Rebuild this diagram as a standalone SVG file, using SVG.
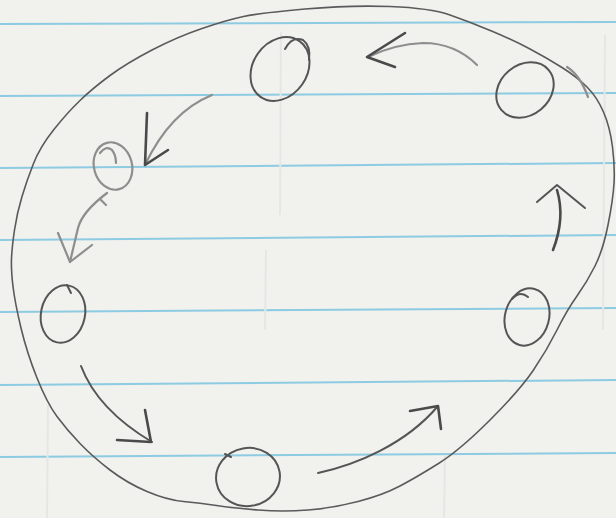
<svg xmlns="http://www.w3.org/2000/svg" width="616" height="518" viewBox="0 0 616 518">
<style>
.rule{stroke:#8ccbe2;stroke-width:2;fill:none}
.ghost{stroke:#e6e6e4;stroke-width:2;fill:none}
.pen{stroke:#555;stroke-width:2;fill:none;stroke-linecap:round;stroke-linejoin:round}
.thin{stroke:#5a5a5a;stroke-width:1.6;fill:none;stroke-linecap:round;stroke-linejoin:round}
.light{stroke:#8e8e8e;stroke-width:2.2;fill:none;stroke-linecap:round;stroke-linejoin:round}
.head{stroke:#4a4a4a;stroke-width:2.6;fill:none;stroke-linecap:round;stroke-linejoin:round}
</style>
<rect width="616" height="518" fill="#f1f1ee"/>
<g id="paper">
<line class="rule" x1="0" y1="24" x2="616" y2="22"/>
<line class="rule" x1="0" y1="96" x2="616" y2="93"/>
<line class="rule" x1="0" y1="168" x2="616" y2="163"/>
<line class="rule" x1="0" y1="240" x2="616" y2="235"/>
<line class="rule" x1="0" y1="312" x2="616" y2="308"/>
<line class="rule" x1="0" y1="385" x2="616" y2="380"/>
<line class="rule" x1="0" y1="457" x2="616" y2="453"/>
<line class="ghost" x1="281" y1="32" x2="280" y2="215"/>
<line class="ghost" x1="266" y1="250" x2="265" y2="330"/>
<line class="ghost" x1="605" y1="35" x2="603" y2="330"/>
<line class="ghost" x1="48" y1="405" x2="47" y2="518"/>
<line class="ghost" x1="445" y1="455" x2="444" y2="518"/>
</g>
<g id="boundary">
<path class="thin" d="M390,6.5 Q430,8 450,15 Q470,22 491.5,31 Q513,40 530,49 Q547,58 562,67.5 Q577,77 587,87 Q597,97 603.5,112 Q610,127 612.5,147 Q615,167 614,183.5 Q613,200 608,225 Q603,250 595,266 Q587,282 577,296 Q567,310 557,330 Q547,350 533.5,370 Q520,390 490,420 Q460,450 438.5,463.5 Q417,477 400,486 Q383,495 358,501.5 Q333,508 308,510 Q283,512 258,510 Q233,508 216.5,505.5 Q200,503 183.5,501.5 Q167,500 147,491.5 Q127,483 110,470 Q93,457 80,443.5 Q67,430 57,416.5 Q47,403 37,378 Q27,353 21,328 Q15,303 13,286.5 Q11,270 11.5,258.5 Q12,247 14.5,230 Q17,213 22,196.5 Q27,180 33.5,163.5 Q40,147 53.5,130 Q67,113 80,100.5 Q93,88 110,75.5 Q127,63 152,50 Q177,37 202,28.5 Q227,20 243.5,16.5 Q260,13 305,9 Q350,5 390,6.5 Z"/>
<path class="light" stroke-width="1.6" d="M567,67 Q580,75 588,97"/>
</g>
<g id="node-top">
<ellipse class="pen" cx="280" cy="69" rx="34" ry="27" transform="rotate(-55 280 69)"/>
<path class="pen" d="M285,49 Q292,36 303,40 Q311,46 309,60"/>
</g>
<g id="node-top-right">
<ellipse class="pen" cx="525" cy="90" rx="31" ry="25" transform="rotate(-40 525 90)"/>
</g>
<g id="node-upper-left">
<ellipse class="light" cx="113" cy="166" rx="19" ry="24" transform="rotate(-15 113 166)"/>
<path class="light" d="M100,153 Q106,145 112,150 Q116,155 116,163"/>
</g>
<g id="node-left">
<ellipse class="pen" cx="63" cy="314" rx="22" ry="29" transform="rotate(12 63 314)"/>
<path class="pen" d="M67,285 L71,293"/>
</g>
<g id="node-bottom">
<ellipse class="pen" cx="248" cy="477" rx="32" ry="29" transform="rotate(-10 248 477)"/>
<path class="pen" d="M225,454 L231,457"/>
</g>
<g id="node-right">
<ellipse class="pen" cx="527" cy="317" rx="22" ry="29" transform="rotate(15 527 317)"/>
<path class="pen" d="M512,299 Q520,290 528,297"/>
</g>
<g id="connectors">
<path class="light" stroke="#777" d="M477,65 Q455,43 423,43 Q395,44 368,57"/>
<path class="head" d="M405,33 L367,57 L395,67"/>
<path class="light" stroke="#7a7a7a" d="M212,95 Q170,112 145,165"/>
<path class="head" stroke="#6a6a6a" d="M147,113 L145,165 L168,150"/>
<path class="light" d="M107,193 Q82,212 78,228 Q74,245 70,262"/>
<path class="light" d="M100,199 L106,205"/>
<path class="light" stroke-width="2.8" d="M58,233 L70,262 L92,245"/>
<path class="pen" d="M81,366 C92,395 115,420 152,442"/>
<path class="head" d="M145,410 L151,442 L117,440"/>
<path class="pen" d="M318,473 C355,465 405,445 438,406"/>
<path class="head" d="M410,411 L438,406 L441,429"/>
<path class="head" stroke-width="3" d="M553,250 C560,232 563,210 557,190"/>
<path class="pen" d="M537,202 L557,185 L585,208"/>
</g>
</svg>
